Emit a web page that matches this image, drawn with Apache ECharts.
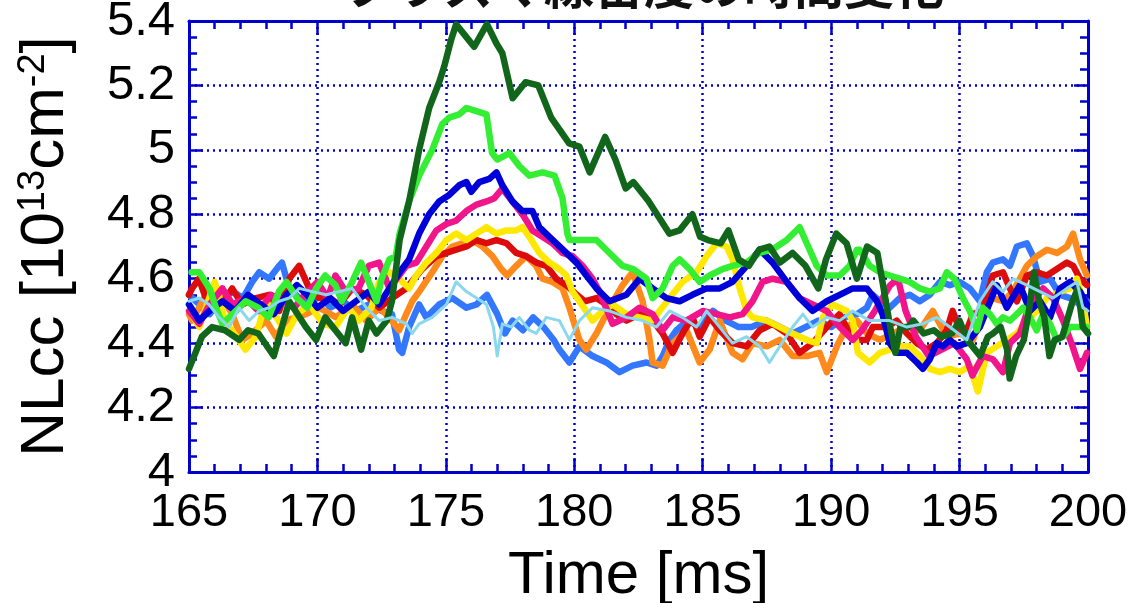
<!DOCTYPE html>
<html>
<head>
<meta charset="utf-8">
<script src="https://cdn.jsdelivr.net/npm/echarts@6/dist/echarts.min.js"></script>
<style>
  html, body { margin: 0; padding: 0; background: #fff; }
  #chart { width: 1136px; height: 603px; }
</style>
</head>
<body>
<div id="chart"></div>
<script>
// Line-averaged density NLcc [10^13 cm^-2] versus time [ms], one trace per shot.
const titleText = 'プラズマ線密度の時間変化';
const xTicks = [165, 170, 175, 180, 185, 190, 195, 200];
const yTicks = [4, 4.2, 4.4, 4.6, 4.8, 5, 5.2, 5.4];

const shotDarkGreen = [
  [165.0,4.32],[165.5,4.42],[165.9,4.45],[166.4,4.44],[166.95,4.41],[167.3,4.44],[167.7,4.43],[168.3,4.36],
  [168.9,4.53],[169.55,4.45],[169.95,4.41],[170.3,4.48],[170.7,4.44],[171.1,4.40],[171.35,4.48],[171.7,4.38],
  [172.0,4.47],[172.3,4.43],[172.7,4.47],[172.9,4.53],[173.2,4.72],[173.57,4.84],[173.96,5.0],[174.35,5.13],
  [174.74,5.21],[174.94,5.26],[175.2,5.34],[175.4,5.39],[175.8,5.35],[176.1,5.32],[176.6,5.39],[176.97,5.33],
  [177.2,5.30],[177.6,5.16],[178.1,5.21],[178.6,5.20],[179.1,5.10],[179.8,5.02],[180.2,5.01],[180.6,4.93],
  [181.2,5.04],[181.6,4.97],[182.0,4.88],[182.3,4.90],[182.9,4.84],[183.3,4.79],[183.7,4.74],[184.1,4.75],
  [184.6,4.80],[184.9,4.73],[185.2,4.72],[185.7,4.71],[186.0,4.75],[186.4,4.66],[186.8,4.64],[187.2,4.69],
  [187.6,4.70],[188.0,4.65],[188.5,4.68],[189.0,4.64],[189.5,4.57],[189.8,4.66],[190.2,4.74],[190.6,4.71],
  [191.0,4.60],[191.4,4.70],[191.8,4.68],[192.0,4.59],[192.3,4.45],[192.5,4.37],[192.7,4.45],[193.0,4.45],
  [193.2,4.47],[193.6,4.43],[194.0,4.44],[194.3,4.42],[194.7,4.43],[195.0,4.47],[195.3,4.41],[195.5,4.39],
  [195.8,4.36],[196.1,4.42],[196.3,4.43],[196.6,4.45],[196.85,4.38],[196.95,4.29],[197.2,4.36],[197.5,4.41],
  [197.7,4.50],[197.9,4.62],[198.1,4.53],[198.3,4.48],[198.5,4.36],[198.7,4.41],[199.0,4.42],[199.4,4.53],
  [199.6,4.57],[199.8,4.45],[200.0,4.43]
];

const shotGreen = [
  [165.1,4.62],[165.4,4.62],[165.8,4.57],[166.05,4.51],[166.3,4.46],[166.7,4.49],[167.2,4.53],[167.7,4.51],
  [168.1,4.48],[168.5,4.56],[168.8,4.59],[169.2,4.54],[169.6,4.51],[169.95,4.57],[170.3,4.61],[170.7,4.58],
  [170.95,4.53],[171.35,4.59],[171.7,4.65],[172.0,4.59],[172.3,4.53],[172.5,4.60],[172.8,4.66],[173.05,4.67],
  [173.2,4.74],[173.57,4.84],[173.96,4.92],[174.47,5.0],[174.86,5.08],[175.13,5.10],[175.52,5.11],[175.8,5.13],
  [176.19,5.12],[176.58,5.11],[176.8,4.99],[177.0,4.97],[177.47,4.99],[177.86,4.95],[178.25,4.92],[178.76,4.93],
  [179.23,4.92],[179.54,4.85],[179.73,4.74],[179.81,4.72],[180.32,4.72],[180.86,4.72],[181.37,4.68],[181.88,4.64],
  [182.3,4.63],[182.81,4.60],[183.05,4.54],[183.44,4.57],[183.83,4.64],[184.1,4.66],[184.49,4.63],[184.88,4.59],
  [185.27,4.61],[185.77,4.63],[186.16,4.64],[186.7,4.65],[187.2,4.68],[187.7,4.69],[188.27,4.72],[188.77,4.76],
  [189.05,4.71],[189.44,4.64],[189.83,4.61],[190.33,4.61],[190.72,4.64],[191.0,4.69],[191.11,4.69],[191.5,4.64],
  [191.9,4.62],[192.28,4.61],[192.67,4.60],[193.06,4.59],[193.45,4.57],[193.84,4.56],[194.23,4.57],[194.5,4.62],
  [194.8,4.60],[195.13,4.54],[195.4,4.50],[195.67,4.44],[195.9,4.51],[196.18,4.49],[196.45,4.46],[196.69,4.48],
  [196.96,4.47],[197.23,4.49],[197.47,4.51],[197.74,4.48],[198.0,4.44],[198.25,4.49],[198.52,4.46],[198.79,4.41],
  [199.03,4.42],[199.3,4.45],[199.57,4.45],[199.96,4.45]
];

const shotBlue = [
  [165.0,4.52],[165.4,4.47],[165.8,4.50],[166.3,4.53],[166.8,4.50],[167.3,4.55],[167.8,4.52],[168.3,4.49],
  [168.8,4.55],[169.2,4.58],[169.6,4.55],[170.0,4.51],[170.5,4.54],[171.0,4.50],[171.5,4.53],[172.0,4.56],
  [172.4,4.52],[172.8,4.57],[173.2,4.62],[173.57,4.66],[173.96,4.74],[174.35,4.80],[174.74,4.84],[175.13,4.86],
  [175.52,4.89],[175.8,4.90],[175.99,4.87],[176.3,4.90],[176.69,4.91],[176.97,4.93],[177.2,4.89],[177.59,4.84],
  [177.98,4.81],[178.37,4.81],[178.64,4.76],[179.03,4.73],[179.3,4.71],[179.69,4.68],[180.08,4.65],[180.47,4.61],
  [180.86,4.57],[181.37,4.53],[182.03,4.55],[182.54,4.60],[183.05,4.57],[183.59,4.54],[184.1,4.53],[184.6,4.55],
  [185.15,4.57],[185.66,4.57],[186.16,4.59],[186.71,4.64],[187.22,4.69],[187.72,4.65],[188.27,4.59],[188.77,4.54],
  [189.28,4.50],[189.83,4.53],[190.33,4.55],[190.84,4.57],[191.39,4.57],[191.78,4.53],[192.0,4.49],[192.28,4.40],
  [192.55,4.37],[192.95,4.37],[193.34,4.34],[193.57,4.32],[193.84,4.35],[194.11,4.40],[194.35,4.39],[194.62,4.41],
  [194.89,4.39],[195.28,4.40],[195.79,4.45],[196.45,4.58],[196.84,4.51],[197.35,4.58],[197.74,4.50],[198.13,4.53],
  [198.52,4.48],[198.91,4.57],[199.3,4.59],[199.69,4.56],[199.96,4.52]
];

const shotMagenta = [
  [165.0,4.50],[165.4,4.46],[165.8,4.52],[166.3,4.57],[166.7,4.52],[167.2,4.54],[167.7,4.50],[168.2,4.55],
  [168.7,4.53],[169.1,4.51],[169.5,4.55],[170.0,4.59],[170.4,4.54],[170.7,4.61],[171.1,4.56],[171.6,4.57],
  [172.0,4.64],[172.4,4.65],[172.8,4.57],[173.18,4.61],[173.46,4.64],[173.85,4.65],[174.24,4.70],[174.63,4.75],
  [175.02,4.77],[175.4,4.78],[175.8,4.81],[176.19,4.83],[176.58,4.84],[176.89,4.85],[177.2,4.88],[177.59,4.84],
  [177.98,4.80],[178.37,4.75],[178.76,4.73],[179.15,4.71],[179.54,4.68],[179.93,4.67],[180.32,4.64],[180.71,4.60],
  [180.98,4.56],[181.49,4.46],[182.03,4.48],[182.54,4.51],[183.05,4.49],[183.44,4.44],[183.83,4.48],[184.37,4.47],
  [185.0,4.50],[185.54,4.49],[186.05,4.48],[186.55,4.49],[186.94,4.53],[187.33,4.59],[187.72,4.60],[188.27,4.59],
  [188.77,4.54],[189.28,4.52],[189.83,4.50],[190.33,4.45],[190.84,4.41],[191.2,4.44],[191.7,4.50],[192.3,4.58],
  [192.6,4.60],[192.9,4.50],[193.3,4.42],[193.8,4.36],[194.3,4.38],[194.8,4.40],[195.28,4.35],[195.5,4.30],
  [195.9,4.36],[196.3,4.35],[196.69,4.31],[196.96,4.40],[197.35,4.43],[197.6,4.49],[197.86,4.53],[198.25,4.57],
  [198.64,4.54],[199.03,4.47],[199.4,4.39],[199.69,4.32],[199.96,4.37]
];

const shotYellow = [
  [165.1,4.49],[165.4,4.45],[166.0,4.59],[166.4,4.47],[167.2,4.38],[167.6,4.42],[168.0,4.53],[168.4,4.48],
  [168.8,4.43],[169.2,4.49],[169.7,4.52],[170.2,4.46],[170.7,4.45],[171.2,4.51],[171.6,4.47],[172.1,4.51],
  [172.4,4.59],[172.8,4.62],[173.18,4.60],[173.57,4.57],[173.85,4.61],[174.24,4.65],[174.63,4.68],[175.02,4.72],
  [175.4,4.74],[175.8,4.72],[176.19,4.74],[176.58,4.76],[176.97,4.74],[177.36,4.75],[177.74,4.75],[177.98,4.76],
  [178.25,4.73],[178.64,4.68],[179.03,4.65],[179.42,4.63],[179.69,4.61],[179.93,4.56],[180.2,4.53],[180.71,4.47],
  [181.1,4.50],[181.49,4.52],[182.03,4.49],[182.54,4.48],[183.05,4.47],[183.32,4.50],[183.71,4.54],[184.21,4.59],
  [184.76,4.62],[185.15,4.67],[185.54,4.71],[185.93,4.70],[186.16,4.66],[186.44,4.57],[186.71,4.50],[186.94,4.48],
  [187.49,4.47],[188.0,4.45],[188.5,4.43],[189.05,4.41],[189.44,4.40],[189.67,4.48],[190.06,4.52],[190.61,4.50],
  [190.84,4.47],[191.04,4.37],[191.5,4.34],[191.9,4.37],[192.28,4.38],[192.67,4.39],[193.06,4.39],[193.45,4.36],
  [193.84,4.32],[194.23,4.31],[194.62,4.32],[195.01,4.31],[195.4,4.33],[195.71,4.25],[196.06,4.37],[196.45,4.39],
  [196.84,4.41],[197.23,4.43],[197.62,4.47],[198.01,4.50],[198.4,4.54],[198.91,4.56],[199.3,4.57],[199.57,4.60],
  [199.8,4.53],[199.96,4.45]
];

const shotRed = [
  [165.0,4.55],[165.12,4.57],[165.39,4.60],[165.78,4.51],[166.29,4.52],[166.68,4.57],[167.07,4.52],[167.61,4.54],
  [168.12,4.55],[168.51,4.50],[168.9,4.60],[169.29,4.64],[169.68,4.57],[170.07,4.54],[170.46,4.54],[170.85,4.52],
  [171.35,4.57],[171.9,4.55],[172.41,4.51],[172.91,4.54],[173.46,4.57],[174.08,4.63],[174.63,4.67],[175.02,4.68],
  [175.4,4.69],[175.8,4.70],[176.19,4.72],[176.58,4.71],[176.97,4.72],[177.36,4.71],[177.74,4.68],[178.13,4.67],
  [178.52,4.65],[178.91,4.64],[179.3,4.60],[179.69,4.58],[180.1,4.55],[180.4,4.53],[180.86,4.54],[181.25,4.52],
  [181.64,4.49],[182.03,4.47],[182.54,4.49],[183.05,4.47],[183.44,4.43],[183.83,4.37],[184.21,4.43],[184.6,4.48],
  [184.88,4.42],[185.27,4.48],[185.66,4.44],[186.16,4.40],[186.71,4.39],[187.22,4.44],[187.72,4.46],[188.27,4.43],
  [188.77,4.37],[189.28,4.40],[189.83,4.45],[190.33,4.49],[190.72,4.43],[191.0,4.41],[191.39,4.41],[191.62,4.45],
  [192.17,4.45],[192.55,4.47],[192.95,4.43],[193.34,4.40],[193.73,4.38],[194.11,4.40],[194.5,4.44],[194.73,4.50],
  [195.01,4.44],[195.28,4.44],[195.52,4.49],[195.9,4.50],[196.29,4.61],[196.69,4.62],[196.96,4.57],[197.23,4.53],
  [197.62,4.61],[198.01,4.62],[198.4,4.61],[198.79,4.63],[199.18,4.65],[199.42,4.64],[199.69,4.60],[199.96,4.58]
];

const shotOrange = [
  [165.0,4.49],[165.12,4.47],[165.39,4.51],[165.78,4.57],[166.17,4.56],[166.68,4.49],[167.07,4.41],[167.46,4.43],
  [168.0,4.47],[168.39,4.42],[168.78,4.47],[169.56,4.49],[170.07,4.51],[170.73,4.48],[171.35,4.52],[171.9,4.47],
  [172.41,4.51],[172.8,4.48],[173.18,4.44],[173.46,4.49],[173.69,4.53],[173.96,4.56],[174.47,4.62],[174.86,4.67],
  [175.25,4.70],[175.64,4.71],[176.03,4.72],[176.42,4.70],[176.81,4.67],[177.16,4.63],[177.39,4.61],[177.74,4.64],
  [178.13,4.67],[178.52,4.64],[178.76,4.60],[179.15,4.59],[179.54,4.57],[179.81,4.51],[180.2,4.41],[180.47,4.38],
  [180.86,4.43],[181.37,4.51],[181.88,4.58],[182.27,4.62],[182.66,4.53],[182.93,4.41],[183.05,4.34],[183.44,4.33],
  [183.83,4.40],[184.37,4.44],[184.88,4.34],[185.27,4.38],[185.66,4.47],[186.16,4.37],[186.55,4.35],[186.94,4.40],
  [187.49,4.39],[188.0,4.41],[188.5,4.36],[189.05,4.36],[189.55,4.37],[189.83,4.31],[190.22,4.39],[190.61,4.45],
  [191.0,4.47],[191.39,4.43],[191.9,4.41],[192.4,4.43],[192.95,4.45],[193.45,4.44],[193.96,4.50],[194.5,4.42],
  [195.01,4.43],[195.52,4.41],[195.9,4.50],[196.29,4.54],[196.69,4.53],[197.08,4.56],[197.62,4.64],[198.01,4.67],
  [198.4,4.69],[198.79,4.68],[199.18,4.70],[199.42,4.74],[199.69,4.66],[199.96,4.61]
];

const shotSkyBlue = [
  [165.0,4.55],[165.4,4.52],[165.8,4.49],[166.2,4.53],[166.7,4.56],[167.1,4.54],[167.46,4.59],[167.73,4.62],
  [168.12,4.60],[168.51,4.64],[168.62,4.65],[168.9,4.57],[169.29,4.54],[169.7,4.52],[170.1,4.55],[170.5,4.51],
  [171.0,4.53],[171.5,4.50],[172.0,4.52],[172.5,4.50],[172.9,4.49],[173.18,4.38],[173.3,4.37],[173.57,4.45],
  [173.96,4.52],[174.24,4.48],[174.74,4.52],[175.25,4.54],[175.8,4.51],[176.19,4.52],[176.6,4.55],[177.0,4.49],
  [177.3,4.43],[177.6,4.47],[178.0,4.44],[178.4,4.48],[178.8,4.45],[179.2,4.41],[179.42,4.38],[179.81,4.34],
  [180.2,4.39],[180.71,4.36],[181.25,4.34],[181.76,4.31],[182.27,4.33],[182.81,4.34],[183.2,4.33],[183.44,4.36],
  [183.71,4.41],[183.98,4.44],[184.4,4.47],[184.9,4.45],[185.4,4.50],[185.9,4.47],[186.4,4.45],[186.9,4.45],
  [187.49,4.47],[188.0,4.45],[188.5,4.43],[189.0,4.45],[189.5,4.47],[190.0,4.45],[190.5,4.48],[191.0,4.49],
  [191.39,4.51],[191.62,4.55],[191.9,4.53],[192.28,4.51],[192.67,4.54],[193.06,4.55],[193.45,4.53],[193.84,4.55],
  [194.23,4.59],[194.62,4.58],[195.01,4.59],[195.4,4.57],[195.79,4.53],[196.06,4.62],[196.29,4.65],[196.69,4.66],
  [196.96,4.64],[197.23,4.70],[197.62,4.71],[197.86,4.67],[198.13,4.59],[198.52,4.60],[198.91,4.55],[199.3,4.54],
  [199.69,4.52],[199.96,4.53]
];

const shotPaleCyan = [
  [165.0,4.53],[165.4,4.54],[165.78,4.52],[166.17,4.48],[166.56,4.45],[166.95,4.51],[167.34,4.47],[167.73,4.50],
  [168.12,4.51],[168.51,4.53],[168.9,4.54],[169.29,4.57],[169.8,4.56],[170.34,4.55],[170.85,4.56],[171.35,4.57],
  [171.9,4.51],[172.41,4.47],[172.91,4.48],[173.46,4.46],[173.69,4.43],[173.96,4.46],[174.47,4.48],[175.02,4.52],
  [175.4,4.59],[175.8,4.56],[176.19,4.54],[176.58,4.52],[176.85,4.45],[177.0,4.36],[177.2,4.46],[177.55,4.45],
  [177.86,4.48],[178.25,4.44],[178.52,4.43],[178.91,4.48],[179.42,4.47],[179.81,4.41],[180.2,4.47],[180.71,4.51],
  [181.37,4.50],[182.03,4.48],[182.66,4.47],[183.2,4.45],[183.71,4.50],[184.21,4.48],[184.76,4.45],[185.15,4.50],
  [185.66,4.45],[186.16,4.40],[186.71,4.42],[187.22,4.39],[187.6,4.34],[188.0,4.39],[188.5,4.45],[188.9,4.49],
  [189.28,4.45],[189.83,4.48],[190.33,4.47],[190.84,4.50],[191.5,4.47],[192.28,4.47],[192.95,4.45],[193.57,4.46],
  [194.11,4.48],[194.62,4.45],[195.28,4.41],[195.79,4.53],[196.29,4.59],[196.69,4.56],[197.08,4.60],[197.62,4.58],
  [198.13,4.56],[198.64,4.54],[199.18,4.57],[199.57,4.59],[199.8,4.51],[200.0,4.50]
];

const traces = [
  { data: shotSkyBlue,   color: '#3377ff', width: 6.5 },
  { data: shotOrange,    color: '#ff8a1c', width: 6.5 },
  { data: shotRed,       color: '#dd0c0c', width: 6.5 },
  { data: shotYellow,    color: '#ffe800', width: 6.5 },
  { data: shotMagenta,   color: '#f0158a', width: 6.5 },
  { data: shotBlue,      color: '#0000d8', width: 6.5 },
  { data: shotGreen,     color: '#33ee33', width: 6.5 },
  { data: shotDarkGreen, color: '#12661c', width: 6.5 },
  { data: shotPaleCyan,  color: '#8ad8ee', width: 3 }
];

const frameBlue = '#0000cc';
const numFont = 'Liberation Sans';

function sideAxis(base) {
  return Object.assign({
    type: 'value',
    axisLine: { show: true, lineStyle: { color: frameBlue, width: 3 } },
    axisTick: { show: true, inside: true, length: 14, lineStyle: { color: frameBlue, width: 2.5 } },
    minorTick: { show: true, length: 8, lineStyle: { color: frameBlue, width: 2.5 } },
    splitLine: { show: false },
    axisLabel: { show: false }
  }, base);
}

const chart = echarts.init(document.getElementById('chart'), null, { renderer: 'canvas' });

chart.setOption({
  backgroundColor: '#ffffff',
  animation: false,
  title: {
    text: titleText,
    left: 639,
    textAlign: 'center',
    top: -45,
    textStyle: { fontFamily: 'Noto Sans CJK JP', fontSize: 50, fontWeight: 'bold', color: '#111' }
  },
  grid: { left: 189, right: 48, top: 21, bottom: 131, show: false, containLabel: false, outerBoundsMode: 'none' },
  xAxis: [
    sideAxis({
      min: xTicks[0], max: xTicks[xTicks.length - 1], interval: 5,
      position: 'bottom',
      minorTick: { show: true, splitNumber: 5, length: 8, lineStyle: { color: frameBlue, width: 2.5 } },
      splitLine: { show: true, lineStyle: { color: frameBlue, width: 2.5, type: [2, 4] } },
      axisLabel: { show: true, color: '#000', fontFamily: numFont, fontSize: 47, margin: 18 },
      name: 'Time [ms]',
      nameLocation: 'middle',
      nameGap: 74,
      nameTextStyle: { color: '#000', fontFamily: numFont, fontSize: 60 }
    }),
    sideAxis({
      min: xTicks[0], max: xTicks[xTicks.length - 1], interval: 5,
      position: 'top',
      minorTick: { show: true, splitNumber: 5, length: 8, lineStyle: { color: frameBlue, width: 2.5 } }
    })
  ],
  yAxis: [
    sideAxis({
      min: yTicks[0], max: yTicks[yTicks.length - 1], interval: 0.2,
      position: 'left',
      minorTick: { show: true, splitNumber: 4, length: 8, lineStyle: { color: frameBlue, width: 2.5 } },
      splitLine: { show: true, lineStyle: { color: frameBlue, width: 2.5, type: [2, 4] } },
      axisLabel: { show: true, color: '#000', fontFamily: numFont, fontSize: 49, margin: 14 },
      name: 'NLcc [10{sup|13}cm{sup|-2}]',
      nameLocation: 'middle',
      nameRotate: 90,
      nameGap: 112,
      nameTextStyle: {
        color: '#000', fontFamily: numFont, fontSize: 62,
        rich: { sup: { fontFamily: numFont, fontSize: 38, color: '#000', verticalAlign: 'top', padding: [0, 0, 24, 0] } }
      }
    }),
    sideAxis({
      min: yTicks[0], max: yTicks[yTicks.length - 1], interval: 0.2,
      position: 'right',
      minorTick: { show: true, splitNumber: 4, length: 8, lineStyle: { color: frameBlue, width: 2.5 } }
    })
  ],
  series: traces.map(function (t) {
    return {
      type: 'line',
      xAxisIndex: 0,
      yAxisIndex: 0,
      data: t.data,
      showSymbol: false,
      smooth: false,
      clip: true,
      lineStyle: { color: t.color, width: t.width, join: 'round', cap: 'round' },
      itemStyle: { color: t.color },
      emphasis: { disabled: true }
    };
  })
});
</script>
</body>
</html>
